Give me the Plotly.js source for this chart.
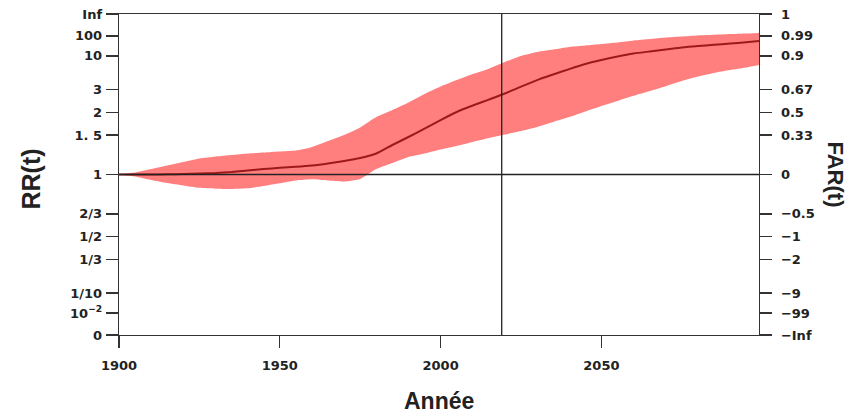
<!DOCTYPE html>
<html>
<head>
<meta charset="utf-8">
<script src="https://cdn.plot.ly/plotly-3.0.1.min.js"></script>
<style>html,body{margin:0;padding:0;background:#fff;}#chart{width:854px;height:414px;}</style>
</head>
<body>
<div id="chart"></div>
<script>
// ---- data ----
const years = [1900,1905,1910,1915,1920,1925,1930,1935,1940,1945,1950,1955,1960,1965,1970,1975,1980,1985,1990,1995,2000,2005,2010,2015,2020,2025,2030,2035,2040,2045,2050,2055,2060,2065,2070,2075,2080,2085,2090,2095,2099];
const rrCentral = [1.0,1.0,1.0,1.002,1.005,1.01,1.015,1.025,1.04,1.055,1.068,1.078,1.092,1.114,1.142,1.177,1.232,1.346,1.469,1.621,1.804,2.017,2.227,2.46,2.76,3.20,3.76,4.42,5.32,6.53,7.89,9.62,11.65,13.5,15.7,18.9,21.9,24.8,28.8,34.1,40.2];
const rrUpper = [1.0,1.02,1.055,1.092,1.131,1.171,1.195,1.213,1.232,1.244,1.257,1.27,1.318,1.405,1.502,1.641,1.876,2.076,2.34,2.731,3.20,3.76,4.49,5.41,7.17,9.90,12.99,15.7,19.8,23.0,27.1,32.8,43.2,54.3,71.3,87.2,107.7,125.6,151,177,203];
const rrLower = [1.0,0.98,0.948,0.92,0.898,0.877,0.869,0.867,0.873,0.893,0.917,0.943,0.954,0.943,0.934,0.957,1.055,1.12,1.189,1.232,1.284,1.332,1.39,1.452,1.511,1.574,1.651,1.758,1.876,2.031,2.209,2.40,2.635,2.901,3.227,3.668,4.161,4.64,5.13,5.65,6.25];
const presentYear = 2019;
const xTickVals = [1900,1950,2000,2050];
const rrTicks = [Infinity,100,10,3,2,1.5,1,2/3,1/2,1/3,1/10,1/100,0];
const rrTickLabels = ["Inf","100","10","3","2","1. 5","1","2/3","1/2","1/3","1/10","10<sup>\u22122</sup>","0"];
const farTickLabels = ["1","0.99","0.9","0.67","0.5","0.33","0","\u22120.5","\u22121","\u22122","\u22129","\u221299","\u2212Inf"];

// axis transform for the RR / FAR scale
function pos(rr){
  if (rr === Infinity) return 1;
  if (rr <= 0) return -1;
  return (2/Math.PI)*Math.atan(Math.log(rr));
}
const tickPos = rrTicks.map(pos);

const TFONT = "DejaVu Sans, sans-serif";
const HFONT = "Liberation Sans, Arial, sans-serif";
const AX = "#333333";

const traces = [
  {x: years, y: rrLower.map(pos), type:'scatter', mode:'lines', line:{width:0, color:'rgba(255,0,0,0)', shape:'spline', smoothing:0.6}, hoverinfo:'skip', showlegend:false},
  {x: years, y: rrUpper.map(pos), type:'scatter', mode:'lines', line:{width:0, color:'rgba(255,0,0,0)', shape:'spline', smoothing:0.6}, fill:'tonexty', fillcolor:'rgba(255,0,0,0.5)', hoverinfo:'skip', showlegend:false},
  {x: years, y: rrCentral.map(pos), type:'scatter', mode:'lines', line:{width:2, color:'#9e1a1a', shape:'spline', smoothing:0.6}, showlegend:false},
  {x: years, y: rrCentral.map(pos), yaxis:'y2', type:'scatter', mode:'lines', line:{width:0}, opacity:0, hoverinfo:'skip', showlegend:false}
];

const tickfont = {family: TFONT, size: 13, color: '#222', weight: 'bold'};

const layout = {
  width: 854, height: 414,
  margin: {l:119, r:95, t:14, b:79},
  paper_bgcolor:'#fff', plot_bgcolor:'#fff',
  showlegend:false,
  xaxis: {
    range:[1900,2099], tickvals:xTickVals, ticktext:xTickVals.map(String),
    showgrid:false, zeroline:false, showline:true, linecolor:AX, linewidth:1.3, mirror:true,
    ticks:'outside', ticklen:12, tickwidth:1.3, tickcolor:AX, tickfont:tickfont, ticklabelstandoff:6
  },
  yaxis: {
    range:[-1,1], tickvals:tickPos, ticktext:rrTickLabels,
    showgrid:false, zeroline:false, showline:true, linecolor:AX, linewidth:1.3,
    ticks:'outside', ticklen:12, tickwidth:1.3, tickcolor:AX, tickfont:tickfont, ticklabelstandoff:1
  },
  yaxis2: {
    overlaying:'y', side:'right', range:[-1,1], tickvals:tickPos, ticktext:farTickLabels,
    showgrid:false, zeroline:false, showline:true, linecolor:AX, linewidth:1.3,
    ticks:'outside', ticklen:12, tickwidth:1.3, tickcolor:AX, tickfont:tickfont, ticklabelstandoff:6
  },
  shapes: [
    {type:'line', xref:'paper', x0:0, x1:1, yref:'y', y0:pos(1), y1:pos(1), line:{color:'#222', width:1.3}, layer:'above'},
    {type:'line', xref:'x', x0:presentYear, x1:presentYear, yref:'paper', y0:0, y1:1, line:{color:'#222', width:1.3}, layer:'above'}
  ],
  annotations: [
    {text:'Année', xref:'paper', yref:'paper', x:0.5, y:-0.2056, xanchor:'center', yanchor:'middle', showarrow:false,
     font:{family:HFONT, size:23, color:'#222', weight:'bold'}},
    {text:'RR(t)', xref:'paper', yref:'paper', x:-0.139, y:0.5, yshift:-5, xanchor:'center', yanchor:'middle', textangle:-90, showarrow:false,
     font:{family:HFONT, size:25, color:'#222', weight:'bold'}},
    {text:'FAR(t)', xref:'paper', yref:'paper', x:1.1203, y:0.5, xanchor:'center', yanchor:'middle', textangle:90, showarrow:false,
     font:{family:HFONT, size:22, color:'#222', weight:'bold'}}
  ]
};

Plotly.newPlot('chart', traces, layout, {displayModeBar:false, staticPlot:true});
</script>
</body>
</html>
